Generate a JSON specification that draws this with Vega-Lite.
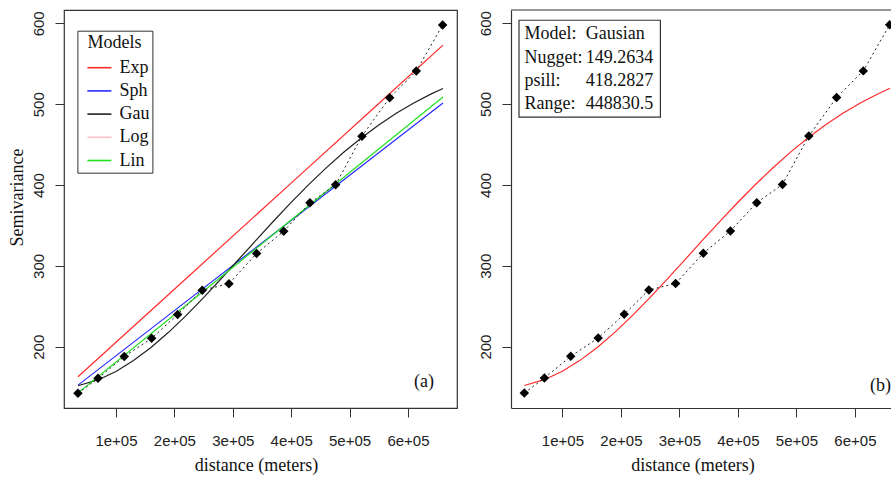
{
  "$schema": "https://vega.github.io/schema/vega-lite/v6.json",
  "padding": {"left": 7, "top": 9, "right": 0, "bottom": 0},
  "background": "white",
  "spacing": 20,
  "config": {
    "axis": {
      "grid": false,
      "tickColor": "#333",
      "tickSize": 9,
      "tickWidth": 1,
      "labelFont": "Liberation Sans",
      "labelFontSize": 15,
      "labelColor": "#222",
      "titleFont": "Liberation Serif",
      "titleFontSize": 18,
      "titleFontWeight": "normal",
      "titleColor": "#111"
    },
    "legend": {
      "titleFont": "Liberation Serif",
      "titleFontSize": 18,
      "titleFontWeight": "normal",
      "titleColor": "#111",
      "labelFont": "Liberation Serif",
      "labelFontSize": 18,
      "labelColor": "#111"
    }
  },
  "datasets": {
    "pts": [
      {"dist": 34900, "gamma": 142.5},
      {"dist": 69200, "gamma": 161},
      {"dist": 114200, "gamma": 188},
      {"dist": 161100, "gamma": 210.5},
      {"dist": 205600, "gamma": 240},
      {"dist": 247800, "gamma": 270},
      {"dist": 293500, "gamma": 278},
      {"dist": 340900, "gamma": 315.5},
      {"dist": 387200, "gamma": 343},
      {"dist": 432200, "gamma": 378},
      {"dist": 476200, "gamma": 400.5},
      {"dist": 521200, "gamma": 460.5},
      {"dist": 568700, "gamma": 508},
      {"dist": 614300, "gamma": 541},
      {"dist": 659400, "gamma": 598}
    ],
    "models": [
      {"model": "Exp", "dist": 35000, "gamma": 163},
      {"model": "Exp", "dist": 200000, "gamma": 271.2},
      {"model": "Exp", "dist": 400000, "gamma": 402.4},
      {"model": "Exp", "dist": 560000, "gamma": 507.4},
      {"model": "Exp", "dist": 660000, "gamma": 573},
      {"model": "Sph", "dist": 35000, "gamma": 152.6},
      {"model": "Sph", "dist": 200000, "gamma": 244.7},
      {"model": "Sph", "dist": 400000, "gamma": 356.3},
      {"model": "Sph", "dist": 560000, "gamma": 445.6},
      {"model": "Sph", "dist": 660000, "gamma": 501.4},
      {"model": "Gau", "dist": 35000, "gamma": 151.8},
      {"model": "Gau", "dist": 70000, "gamma": 159.32},
      {"model": "Gau", "dist": 100000, "gamma": 169.52},
      {"model": "Gau", "dist": 130000, "gamma": 182.92},
      {"model": "Gau", "dist": 160000, "gamma": 199.18},
      {"model": "Gau", "dist": 190000, "gamma": 217.89},
      {"model": "Gau", "dist": 220000, "gamma": 238.6},
      {"model": "Gau", "dist": 250000, "gamma": 260.83},
      {"model": "Gau", "dist": 280000, "gamma": 284.11},
      {"model": "Gau", "dist": 310000, "gamma": 307.95},
      {"model": "Gau", "dist": 340000, "gamma": 331.9},
      {"model": "Gau", "dist": 370000, "gamma": 355.55},
      {"model": "Gau", "dist": 400000, "gamma": 378.52},
      {"model": "Gau", "dist": 430000, "gamma": 400.5},
      {"model": "Gau", "dist": 460000, "gamma": 421.23},
      {"model": "Gau", "dist": 490000, "gamma": 440.54},
      {"model": "Gau", "dist": 520000, "gamma": 458.27},
      {"model": "Gau", "dist": 550000, "gamma": 474.37},
      {"model": "Gau", "dist": 580000, "gamma": 488.8},
      {"model": "Gau", "dist": 610000, "gamma": 501.59},
      {"model": "Gau", "dist": 640000, "gamma": 512.79},
      {"model": "Gau", "dist": 660000, "gamma": 519.42},
      {"model": "Lin", "dist": 35000, "gamma": 143},
      {"model": "Lin", "dist": 200000, "gamma": 239.6},
      {"model": "Lin", "dist": 400000, "gamma": 356.7},
      {"model": "Lin", "dist": 560000, "gamma": 450.4},
      {"model": "Lin", "dist": 660000, "gamma": 509}
    ],
    "info": [
      {"key": "Model:", "val": "Gausian", "row": 586.2},
      {"key": "Nugget:", "val": "149.2634", "row": 557.3},
      {"key": "psill:", "val": "418.2827", "row": 528.5},
      {"key": "Range:", "val": "448830.5", "row": 499.7}
    ]
  },
  "hconcat": [
    {
      "width": 393,
      "height": 398,
      "view": {"stroke": "#333", "strokeWidth": 1.2},
      "layer": [
        {
          "data": {"name": "models"},
          "mark": {"type": "line", "strokeWidth": 1.2},
          "encoding": {
            "x": {
              "field": "dist", "type": "quantitative",
              "scale": {"domain": [11000, 684000], "nice": false, "zero": false},
              "axis": {
                "title": "distance (meters)",
                "domain": false,
                "values": [100000, 200000, 300000, 400000, 500000, 600000],
                "labelExpr": "datum.value / 100000 + 'e+05'",
                "labelPadding": 16,
                "minExtent": 40, "maxExtent": 40,
                "titlePadding": 8,
                "titleX": 192,
                "titleAlign": "center"
              }
            },
            "y": {
              "field": "gamma", "type": "quantitative",
              "scale": {"domain": [124.3, 616.5], "nice": false, "zero": false},
              "axis": {
                "title": "Semivariance",
                "domain": false,
                "values": [200, 300, 400, 500, 600],
                "labelAngle": -90,
                "labelAlign": "center",
                "labelBaseline": "bottom",
                "labelPadding": 9,
                "minExtent": 33, "maxExtent": 33,
                "titlePadding": 5,
                "titleY": 187
              }
            },
            "color": {
              "field": "model", "type": "nominal", "sort": null,
              "scale": {
                "domain": ["Exp", "Sph", "Gau", "Log", "Lin"],
                "range": ["#ff2a2a", "#2a2aff", "#222222", "#ffc0cb", "#22e022"]
              },
              "legend": {
                "title": "Models",
                "titleAnchor": "middle",
                "orient": "none",
                "legendX": 13.4,
                "legendY": 20.7,
                "direction": "vertical",
                "strokeColor": "#333",
                "fillColor": "white",
                "padding": 3,
                "symbolType": "stroke",
                "symbolSize": 576,
                "symbolStrokeWidth": 1.6,
                "symbolOffset": 6,
                "labelOffset": 7,
                "labelExpr": "datum.label + '\u00a0\u00a0'",
                "titlePadding": 3,
                "rowPadding": 1.2
              }
            }
          }
        },
        {
          "data": {"name": "pts"},
          "mark": {"type": "line", "color": "#222", "strokeWidth": 1, "strokeDash": [2, 3]},
          "encoding": {
            "x": {"field": "dist", "type": "quantitative"},
            "y": {"field": "gamma", "type": "quantitative"}
          }
        },
        {
          "data": {"name": "pts"},
          "mark": {"type": "point", "shape": "diamond", "filled": true, "color": "black", "opacity": 1, "size": 90},
          "encoding": {
            "x": {"field": "dist", "type": "quantitative"},
            "y": {"field": "gamma", "type": "quantitative"}
          }
        },
        {
          "data": {"values": [{"label": "(a)"}]},
          "mark": {"type": "text", "font": "Liberation Serif", "fontSize": 18, "color": "#111", "align": "center", "baseline": "middle"},
          "encoding": {"x": {"datum": 627500}, "y": {"datum": 156.5}, "text": {"field": "label"}}
        }
      ]
    },
    {
      "width": 381,
      "height": 398,
      "view": {"stroke": null},
      "layer": [
        {
          "data": {"name": "models"},
          "transform": [{"filter": "datum.model === 'Gau'"}],
          "mark": {"type": "line", "color": "#ff2a2a", "strokeWidth": 1.2, "clip": true},
          "encoding": {
            "x": {
              "field": "dist", "type": "quantitative",
              "scale": {"domain": [12100, 663400], "nice": false, "zero": false},
              "axis": {
                "title": "distance (meters)",
                "domain": true,
                "domainColor": "#333",
                "domainWidth": 1.2,
                "values": [100000, 200000, 300000, 400000, 500000, 600000],
                "labelExpr": "datum.value / 100000 + 'e+05'",
                "labelPadding": 16,
                "minExtent": 40, "maxExtent": 40,
                "titlePadding": 8,
                "titleX": 181.5,
                "titleAlign": "center"
              }
            },
            "y": {
              "field": "gamma", "type": "quantitative",
              "scale": {"domain": [124, 616.3], "nice": false, "zero": false},
              "axis": {
                "title": null,
                "domain": true,
                "domainColor": "#333",
                "domainWidth": 1.2,
                "values": [200, 300, 400, 500, 600],
                "labelAngle": -90,
                "labelAlign": "center",
                "labelBaseline": "bottom",
                "labelPadding": 9,
                "minExtent": 33, "maxExtent": 33
              }
            }
          }
        },
        {
          "data": {"values": [{"top": 616.3, "from": 12100, "to": 663400}]},
          "mark": {"type": "rule", "color": "#333", "strokeWidth": 1.2},
          "encoding": {
            "y": {"field": "top", "type": "quantitative"},
            "x": {"field": "from", "type": "quantitative"},
            "x2": {"field": "to"}
          }
        },
        {
          "data": {"name": "pts"},
          "mark": {"type": "line", "color": "#222", "strokeWidth": 1, "strokeDash": [2, 3], "clip": true},
          "encoding": {
            "x": {"field": "dist", "type": "quantitative"},
            "y": {"field": "gamma", "type": "quantitative"}
          }
        },
        {
          "data": {"name": "pts"},
          "mark": {"type": "point", "shape": "diamond", "filled": true, "color": "black", "opacity": 1, "size": 90, "clip": true},
          "encoding": {
            "x": {"field": "dist", "type": "quantitative"},
            "y": {"field": "gamma", "type": "quantitative"}
          }
        },
        {
          "data": {"values": [{"x1": 25800, "x2": 267500, "y1": 603.6, "y2": 483.9}]},
          "mark": {"type": "rect", "fill": "white", "stroke": "#333", "strokeWidth": 1.2},
          "encoding": {
            "x": {"field": "x1", "type": "quantitative"},
            "x2": {"field": "x2"},
            "y": {"field": "y1", "type": "quantitative"},
            "y2": {"field": "y2"}
          }
        },
        {
          "data": {"name": "info"},
          "mark": {"type": "text", "font": "Liberation Serif", "fontSize": 18, "color": "#111", "align": "left", "baseline": "middle"},
          "encoding": {"x": {"datum": 35000}, "y": {"field": "row", "type": "quantitative"}, "text": {"field": "key"}}
        },
        {
          "data": {"name": "info"},
          "mark": {"type": "text", "font": "Liberation Serif", "fontSize": 18, "color": "#111", "align": "left", "baseline": "middle"},
          "encoding": {"x": {"datum": 139800}, "y": {"field": "row", "type": "quantitative"}, "text": {"field": "val"}}
        },
        {
          "data": {"values": [{"label": "(b)"}]},
          "mark": {"type": "text", "font": "Liberation Serif", "fontSize": 18, "color": "#111", "align": "center", "baseline": "middle", "clip": true},
          "encoding": {"x": {"datum": 643700}, "y": {"datum": 151.4}, "text": {"field": "label"}}
        }
      ]
    }
  ]
}
